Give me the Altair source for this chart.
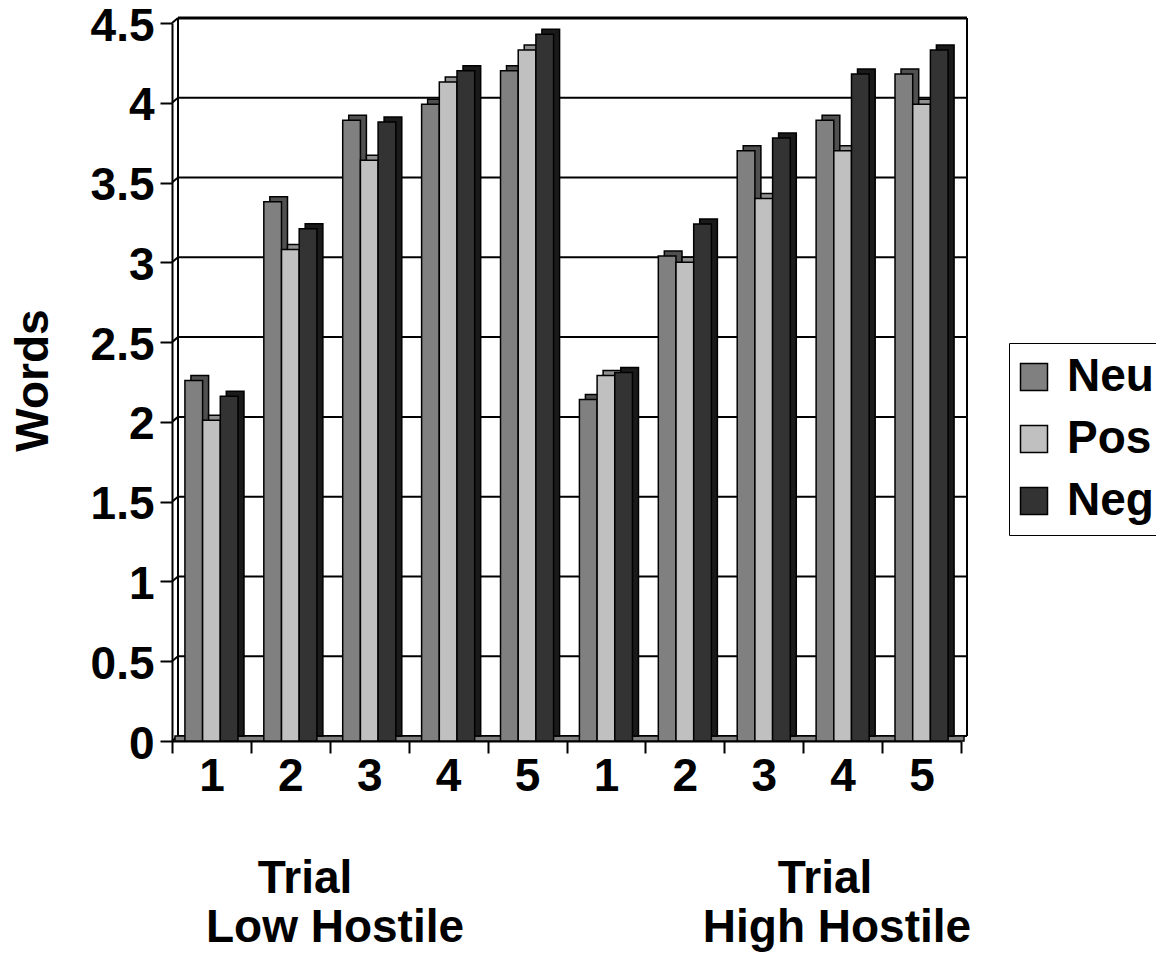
import altair as alt
import pandas as pd

# Mean words recalled per trial, by word valence, for low- and high-hostile groups
trials = ["1", "2", "3", "4", "5"]
series = ["Neu", "Pos", "Neg"]
low_neu = [2.26, 3.38, 3.89, 3.99, 4.20]
low_pos = [2.01, 3.08, 3.64, 4.13, 4.33]
low_neg = [2.16, 3.21, 3.88, 4.20, 4.43]
high_neu = [2.14, 3.04, 3.70, 3.89, 4.18]
high_pos = [2.29, 3.00, 3.40, 3.70, 3.99]
high_neg = [2.31, 3.24, 3.78, 4.18, 4.33]
y_ticks = [0, 0.5, 1, 1.5, 2, 2.5, 3, 3.5, 4, 4.5]

front_colors = ["#808080", "#c0c0c0", "#333333"]
depth_colors = ["#505050", "#8f8f8f", "#1a1a1a"]

rows = []
for grp, vals in (("L", (low_neu, low_pos, low_neg)), ("H", (high_neu, high_pos, high_neg))):
    for s, arr, dc in zip(series, vals, depth_colors):
        for t, v in zip(trials, arr):
            rows.append({"key": grp + t, "series": s, "value": v, "depth": dc})
df = pd.DataFrame(rows)
keys = [g + t for g in ("L", "H") for t in trials]

W, H = 789, 718
STEP = W / len(keys)
DX, DY = 6, -5  # depth of the 3-D box
FONT = "Liberation Sans"

x_enc = alt.X("key:N", scale=alt.Scale(domain=keys, paddingInner=0, paddingOuter=0),
              axis=alt.Axis(title=None, labelExpr="substring(datum.label, 1)", tickBand="extent",
                            labelFontSize=46, labelFont=FONT, labelFontWeight="bold", labelColor="black",
                            labelPadding=1, tickSize=12, tickWidth=2, tickColor="black",
                            domainColor="black", domainWidth=2, labelAngle=0, grid=False))


def offset_enc(shift):
    return alt.XOffset("series:N", scale=alt.Scale(domain=series, paddingOuter=0.73, paddingInner=0,
                                                   range=[shift, STEP + shift]))


y_scale = alt.Scale(domain=[0, 4.5], nice=False)
y_enc = alt.Y("value:Q", scale=y_scale,
              axis=alt.Axis(title="Words", values=y_ticks, format="~g", grid=False,
                            labelFontSize=46, labelFont=FONT, labelFontWeight="bold", labelColor="black",
                            labelPadding=6, labelOffset=3, tickSize=12, tickWidth=2, tickColor="black",
                            domainColor="black", domainWidth=2,
                            titleFontSize=46, titleFont=FONT, titleFontWeight="bold", titleColor="black",
                            titleAngle=-90, titleX=-139, titleY=357, titleAlign="center",
                            titleBaseline="middle"))

tick_df = pd.DataFrame({"v": y_ticks})

# back-wall gridlines
grid = alt.Chart(tick_df).mark_rule(color="black", yOffset=DY).encode(
    y=alt.Y("v:Q", scale=y_scale),
    x=alt.value(DX), x2=alt.value(W + DX),
    strokeWidth=alt.condition("datum.v == 4.5", alt.value(3), alt.value(2)),
)
# left wall connectors between front axis and back wall
side_wall = alt.Chart(tick_df).mark_rule(color="black", strokeWidth=2, y2Offset=DY).encode(
    y=alt.Y("v:Q", scale=y_scale), y2="v:Q",
    x=alt.value(0), x2=alt.value(DX),
)
# back wall vertical edges
edges = alt.Chart(pd.DataFrame({"e": [DX, W + DX]})).mark_rule(
    color="black", strokeWidth=2, yOffset=DY, y2Offset=DY
).encode(
    x=alt.X("e:Q", scale=None), y=alt.datum(0, scale=y_scale), y2=alt.datum(4.5),
)
# floor slab
floor = alt.Chart(pd.DataFrame({"f": [0]})).mark_rect(
    fill="#808080", stroke="black", strokeWidth=1.5, y2Offset=DY
).encode(
    x=alt.value(DX / 2), x2=alt.value(W + DX / 2),
    y=alt.Y("f:Q", scale=y_scale), y2="f:Q",
)

base = alt.Chart(df)
depth = base.mark_bar(stroke="black", strokeWidth=1.5, yOffset=DY, y2Offset=DY).encode(
    x=x_enc, xOffset=offset_enc(DX), y=y_enc,
    color=alt.Color("depth:N", scale=None),
)
front = base.mark_bar(stroke="black", strokeWidth=1.5).encode(
    x=x_enc, xOffset=offset_enc(0), y=y_enc,
    color=alt.Color("series:N", scale=alt.Scale(domain=series, range=front_colors),
                    legend=alt.Legend(title=None, orient="none", legendX=837, legendY=320,
                                      fillColor="white", strokeColor="black", padding=11,
                                      symbolType="square", symbolSize=729, symbolOffset=-9,
                                      symbolStrokeColor="black", symbolStrokeWidth=1.5,
                                      labelFontSize=46, labelFont=FONT, labelFontWeight="bold",
                                      labelColor="black", labelOffset=10, rowPadding=16)),
)

titles = []
for txt, px, py in (("Trial", 133, 870), ("Low Hostile", 163, 919),
                    ("Trial", 653, 870), ("High Hostile", 665, 919)):
    titles.append(
        alt.Chart(alt.Data(values=[{}])).mark_text(
            text=txt, fontSize=46, font=FONT, fontWeight="bold", color="black",
            align="center", baseline="alphabetic"
        ).encode(x=alt.value(px), y=alt.value(py))
    )

chart = alt.layer(grid, side_wall, edges, floor, depth, front, *titles).resolve_scale(
    xOffset="independent"
).properties(
    width=W, height=H,
    autosize=alt.AutoSizeParams(type="none"),
    padding={"left": 172, "top": 23, "right": 1156 - 172 - W, "bottom": 953 - 23 - H},
    background="white",
).configure_view(stroke=None)

chart.save("out.html", embed_options={"renderer": "svg", "actions": False})
